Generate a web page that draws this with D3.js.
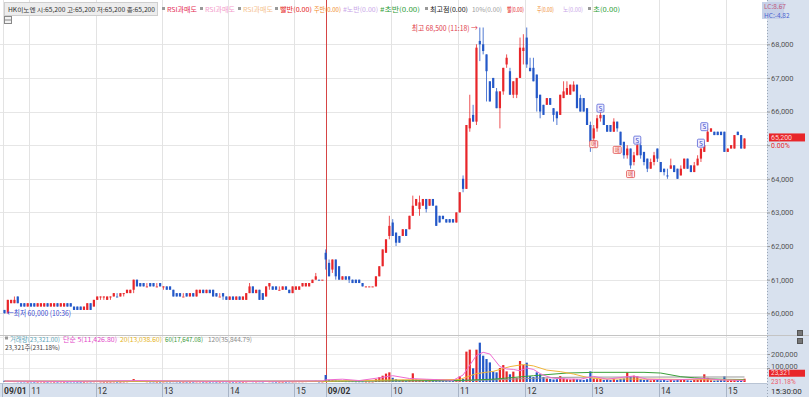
<!DOCTYPE html>
<html>
<head>
<meta charset="utf-8">
<script src="https://cdn.jsdelivr.net/npm/d3@7"></script>
<style>
body { margin: 0; background: #fff; }
svg { display: block; font-family: "Noto Sans CJK KR", "Noto Sans", sans-serif; }
</style>
</head>
<body>
<script>
// 3-minute candles, day 1 from 10:36, day 2 from 09:00
// [open, high, low, close]
const day1 = [
  [60100,60100,60000,60000],[60000,60400,60000,60400],[60300,60400,60300,60400],[60300,60500,60300,60400],
  [60500,60500,60300,60300],[60300,60300,60200,60200],[60300,60300,60200,60200],[60200,60300,60200,60300],
  [60300,60300,60200,60200],[60300,60300,60200,60200],[60200,60300,60200,60300],[60200,60300,60200,60300],
  [60200,60300,60200,60300],[60300,60300,60200,60200],[60200,60300,60200,60300],[60200,60300,60200,60300],
  [60300,60300,60200,60200],[60200,60300,60200,60300],[60200,60300,60200,60300],[60300,60300,60200,60200],
  [60300,60300,60200,60200],[60200,60200,60100,60100],[60200,60200,60100,60100],[60200,60200,60100,60100],
  [60100,60200,60100,60200],[60100,60300,60100,60300],[60300,60300,60100,60100],[60200,60400,60200,60400],
  [60400,60500,60400,60500],[60500,60500,60400,60500],[60500,60500,60400,60500],[60400,60500,60400,60500],
  [60500,60500,60400,60500],[60500,60600,60500,60600],[60500,60600,60500,60500],[60500,60600,60500,60600],
  [60600,60600,60500,60600],[60600,60700,60600,60700],[60600,60700,60600,60700],[60700,61000,60600,61000],
  [61000,61000,60800,60800],[60900,60900,60800,60800],[60900,60900,60800,60800],[60800,60900,60800,60800],
  [60900,60900,60800,60800],[60900,60900,60800,60800],[60800,60900,60800,60800],[60900,60900,60800,60800],
  [60800,60800,60700,60800],[60800,60800,60700,60700],[60800,60800,60700,60700],[60700,60700,60500,60500],
  [60600,60600,60500,60500],[60600,60600,60500,60500],[60500,60600,60500,60500],[60600,60600,60500,60500],
  [60500,60600,60500,60600],[60600,60600,60500,60500],[60500,60700,60500,60700],[60600,60700,60600,60700],
  [60700,60700,60600,60600],[60600,60700,60600,60700],[60700,60700,60600,60600],[60700,60700,60500,60500],
  [60600,60600,60500,60500],[60500,60600,60500,60500],[60600,60600,60400,60500],[60500,60500,60400,60400],
  [60400,60500,60400,60500],[60500,60500,60400,60400],[60400,60500,60400,60500],[60500,60500,60400,60400],
  [60400,60500,60400,60500],[60400,60600,60400,60600],[60600,60900,60600,60800],[60800,60800,60600,60600],
  [60600,60700,60600,60700],[60700,60700,60400,60400],[60600,60600,60400,60400],[60500,60800,60500,60800],
  [60800,60900,60700,60900],[60800,60800,60700,60700],[60800,60800,60700,60700],[60700,60800,60700,60700],
  [60700,60800,60700,60800],[60800,60800,60700,60700],[60700,60700,60600,60600],[60600,60800,60600,60800],
  [60700,60800,60700,60800],[60700,60800,60700,60800],[60800,60900,60800,60900],[60800,60900,60800,60900],
  [60800,60900,60800,60900],[60900,61000,60900,61000],[61000,61200,61000,61100],[61000,61000,61000,61000],
  [61000,61000,61000,61000]
];

const day2 = [
  [61800,61900,61300,61600],[61500,61600,61100,61100],[61300,61600,61200,61600],[61600,61600,61000,61100],
  [61400,61400,61000,61000],[61000,61100,61000,61100],[61100,61100,61000,61000],[61100,61100,60900,61000],
  [61000,61000,60900,60900],[61000,61000,60900,60900],[61000,61000,60900,60900],[60900,60900,60800,60800],
  [60800,60800,60800,60800],[60800,60800,60800,60800],[60800,60800,60800,60800],[60800,61100,60800,61100],
  [61100,61400,61100,61400],[61400,61900,61400,61900],[61800,62200,61800,62200],[62300,62900,62200,62600],
  [62700,62800,62300,62300],[62400,62400,62000,62100],[62300,62300,62100,62100],[62300,62500,62300,62500],
  [62500,62500,62300,62300],[62500,62900,62500,62900],[62900,63500,62900,63200],[63200,63400,63200,63400],
  [63100,63500,62900,63300],[63200,63400,63200,63400],[63400,63400,63000,63100],[63200,63400,63200,63400],
  [63400,63400,63200,63200],[63200,63200,62600,62600],[62900,62900,62700,62700],[62900,62900,62800,62800],
  [62800,62800,62700,62700],[62800,62800,62700,62700],[62800,62800,62700,62700],[62700,63000,62700,63000],
  [63000,63600,63000,63600],[64000,64100,63600,63700],[63700,65600,63700,65600],[65500,66500,65400,65800],
  [65900,66200,65700,65700],[65700,68000,65600,67900],[68100,68500,67500,68000],[68000,68500,67700,67800],
  [67700,67700,66300,67200],[66900,66900,66300,66300],[67000,67000,66700,66700],[66600,66700,66100,66100],
  [66100,66600,65500,66600],[66600,67300,66500,67300],[67400,67700,67300,67600],[67200,67300,66500,66500],
  [66500,66900,66400,66900],[66500,67000,66400,67000],[67000,68200,67000,67900],[67800,68300,67400,67900],
  [68200,68500,67300,67400],[67300,67600,67200,67200],[67300,67600,66900,66900],[67100,67100,66000,66400],
  [66500,66500,65800,66000],[66200,66200,65900,65900],[66200,66400,66200,66400],[66400,66400,66200,66200],
  [66100,66100,65700,65900],[66000,66000,65600,65800],[65900,66500,65900,66500],[66400,66900,66400,66600],
  [66500,66900,66500,66700],[66500,66800,66500,66800],[66600,66900,66600,66800],[66800,66800,66100,66100],
  [66400,66500,66000,66000],[66400,66400,66000,66000],[66100,66100,65600,65600],[65600,65700,64800,65100],
  [65200,65600,65100,65500],[65500,65900,65400,65800],[65800,66100,65700,65900],[65900,65900,65600,65600],
  [65600,65600,65400,65400],[65600,65600,65400,65400],[65400,65800,65400,65700],[65700,65700,65400,65500],
  [65400,65400,65000,65000],[65100,65100,64600,64700],[64700,65000,64600,64900],[64900,64900,64300,64400],
  [64500,64800,64400,64700],[64700,65100,64700,65000],[65000,65100,64600,64700],[64800,64800,64400,64500],
  [64600,64600,64200,64300],[64300,64600,64300,64500],[64500,64800,64400,64700],[64900,64900,64500,64600],
  [64500,64500,64200,64200],[64300,64300,64100,64200],[64100,64300,64000,64100],[64300,64600,64300,64400],
  [64400,64400,64200,64200],[64300,64300,64000,64000],[64100,64400,64100,64300],[64300,64600,64300,64600],
  [64600,64600,64300,64300],[64400,64400,64200,64200],[64200,64500,64200,64400],[64400,64700,64400,64600],
  [64600,64900,64500,64900],[64800,65100,64800,65000],[65100,65500,65100,65400],[65400,65500,65400,65500],
  [65400,65400,65300,65300],[65400,65400,65300,65300],[65400,65400,65300,65300],[65400,65400,64800,64800],
  [64800,64900,64800,64900],[64900,65000,64900,65000],[64900,65300,64900,65300],[65400,65400,65300,65300],
  [65300,65300,64900,64900],[64900,65200,64900,65200]
];

const vol1 = [
  9000,8000,6000,5000,4000,3000,3000,2000,3000,2000,
  2000,3000,2000,2000,3000,2000,2000,3000,2000,2000,
  3000,3000,2000,2000,2000,3000,3000,4000,5000,3000,
  2000,2000,2000,3000,2000,2000,3000,4000,6000,21000,
  7000,6000,6000,4000,3000,3000,2000,2000,3000,3000,
  3000,4000,3000,2000,2000,2000,2000,2000,3000,3000,
  2000,2000,2000,3000,2000,2000,3000,3000,2000,2000,
  2000,2000,2000,3000,5000,4000,3000,4000,3000,7000,
  4000,3000,2000,2000,2000,2000,3000,3000,4000,4000,
  4000,5000,6000,7000,8000,3000,3000
];

const vol2 = [
  50000,15000,12000,10000,8000,6000,5000,5000,5000,4000,
  4000,4000,3000,3000,3000,20000,35000,45000,60000,69000,
  30000,20000,12000,15000,10000,15000,62000,18000,15000,12000,
  14000,10000,12000,20000,10000,8000,9000,7000,8000,15000,
  40000,21000,217000,231000,98000,231000,281000,188000,164000,140000,
  74000,69000,100000,121000,76000,55000,74000,30000,150000,121000,
  138000,42000,36000,69000,55000,36000,25000,22000,18000,20000,
  42000,25000,20000,18000,22000,20000,18000,15000,20000,76000,
  25000,20000,22000,15000,18000,14000,20000,15000,22000,25000,
  69000,40000,45000,40000,20000,15000,18000,12000,14000,15000,
  12000,14000,10000,15000,12000,18000,14000,16000,12000,10000,
  14000,16000,20000,55000,30000,12000,10000,12000,14000,40000,
  12000,14000,18000,12000,10000,23321
];

// volume moving averages: [candle index, value]
const ma5 = [[0,6000],[20,4000],[40,10000],[60,5000],[80,5000],[96,8000],[97,15000],[102,20000],[107,10000],
  [113,30000],[117,45000],[122,25000],[127,20000],[135,12000],[138,50000],[140,120000],[142,190000],[144,212000],
  [146,200000],[147,170000],[149,110000],[151,93000],[153,90000],[155,80000],[157,100000],[159,90000],[161,60000],
  [163,40000],[165,27000],[169,22000],[173,20000],[177,40000],[181,20000],[187,38000],[189,42000],[193,20000],
  [201,15000],[210,25000],[215,15000],[222,11427]];
const ma20 = [[0,5000],[96,5000],[117,15000],[137,18000],[142,60000],[147,76000],[152,110000],[156,125000],
  [159,115000],[163,85000],[167,74000],[171,57000],[175,33000],[179,22000],[197,20000],[222,13039]];
const ma60 = [[0,4000],[96,5000],[117,9000],[137,11000],[147,20000],[159,45000],[169,64000],[177,69000],
  [192,69000],[197,64000],[203,38000],[207,30000],[212,22000],[217,19000],[222,17647]];
const ma120 = [[0,7000],[96,6000],[137,8000],[147,15000],[157,25000],[167,33000],[177,35000],[222,35845]];

const priceTicks = [60000, 61000, 62000, 63000, 64000, 65000, 66000, 67000, 68000];
const volTicks = [100000, 200000];
const timeLabels = ['09/01', '11', '12', '13', '14', '15', '09/02', '10', '11', '12', '13', '14', '15'];
const timeIdx = [0, 8, 28, 48, 68, 88, 97, 117, 137, 157, 177, 197, 217];

// signal markers: [candle index, price]
const sellSignals = [[179, 66100], [190, 65150], [209, 65060], [210, 65550]];
const buySignals = [[177, 65030], [184, 64860], [188, 64140]];

const candles = day1.concat(day2).map((d, i) => ({ i, o: d[0], h: d[1], l: d[2], c: d[3] }));
const volumes = vol1.concat(vol2);
candles.forEach((d, i) => {
  const prev = i > 0 ? candles[i - 1].c : d.o;
  d.up = d.c > d.o || (d.c === d.o && d.c >= prev);
  d.v = volumes[i];
});
const last = candles[candles.length - 1];

const RED = '#e8262a', BLUE = '#2458c8';
const W = 809, H = 397, plotR = 767;

const svg = d3.select('body').append('svg').attr('width', W).attr('height', H);

const x = d3.scaleLinear().domain([0, 97, 222]).range([4.5, 325.7, 744.5]);
const y = d3.scaleLinear().domain([60000, 68000]).range([313.3, 44.3]);
const yv = d3.scaleLinear().domain([0, 200000]).range([382, 354]);
const bw = 2.2;

// panels
svg.append('rect').attr('x', plotR).attr('y', 0).attr('width', W - plotR).attr('height', H).attr('fill', '#d8e1ee');
svg.append('rect').attr('x', 0).attr('y', 384).attr('width', plotR).attr('height', 13).attr('fill', '#d8e1ee');
svg.append('line').attr('x1', 0).attr('x2', plotR).attr('y1', 383.5).attr('y2', 383.5).attr('stroke', '#b9c4d4');

// grid
svg.append('g').selectAll('line').data(priceTicks).join('line')
  .attr('x1', 0).attr('x2', plotR).attr('y1', d => Math.round(y(d)) + 0.5).attr('y2', d => Math.round(y(d)) + 0.5)
  .attr('stroke', '#e6e6e6');
svg.append('g').selectAll('line').data(volTicks).join('line')
  .attr('x1', 0).attr('x2', plotR).attr('y1', d => Math.round(yv(d)) + 0.5).attr('y2', d => Math.round(yv(d)) + 0.5)
  .attr('stroke', '#ececec');
const gridX = timeIdx.map((k, n) => n === 6 ? x(k) : x(k) - 1.65);
svg.append('g').selectAll('line').data(gridX.filter((d, n) => n !== 6)).join('line')
  .attr('x1', d => Math.round(d) + 0.5).attr('x2', d => Math.round(d) + 0.5)
  .attr('y1', 0).attr('y2', 383).attr('stroke', '#e3e3e3');

// panel separator
svg.append('line').attr('x1', 0).attr('x2', W).attr('y1', 335.5).attr('y2', 335.5).attr('stroke', '#c4c4c4');
svg.append('line').attr('x1', 0).attr('x2', plotR).attr('y1', 337.5).attr('y2', 337.5).attr('stroke', '#ececec');

// day separator
svg.append('line').attr('x1', Math.round(x(97)) + 0.5).attr('x2', Math.round(x(97)) + 0.5)
  .attr('y1', 0).attr('y2', 383).attr('stroke', '#d64545');

// candles
const cg = svg.append('g');
cg.selectAll('line').data(candles).join('line')
  .attr('x1', d => x(d.i)).attr('x2', d => x(d.i))
  .attr('y1', d => y(d.h)).attr('y2', d => y(d.l))
  .attr('stroke', d => d.up ? RED : BLUE).attr('stroke-width', 0.8);
cg.selectAll('rect').data(candles).join('rect')
  .attr('x', d => x(d.i) - bw / 2).attr('width', bw)
  .attr('y', d => y(Math.max(d.o, d.c)))
  .attr('height', d => Math.max(1, Math.abs(y(d.o) - y(d.c))))
  .attr('fill', d => d.up ? RED : BLUE);

// volume bars
svg.append('g').selectAll('rect').data(candles).join('rect')
  .attr('x', d => x(d.i) - bw / 2).attr('width', bw)
  .attr('y', d => yv(d.v)).attr('height', d => Math.max(0.8, yv(0) - yv(d.v)))
  .attr('fill', d => d.up ? RED : BLUE);

// volume MAs
const vline = d3.line().x(d => x(d[0])).y(d => yv(d[1]));
[[ma120, '#9a9a9a'], [ma60, '#3aa03a'], [ma20, '#efb53a'], [ma5, '#ee6ad0']].forEach(([d, c]) => {
  svg.append('path').datum(d).attr('d', vline).attr('fill', 'none').attr('stroke', c).attr('stroke-width', 1);
});

// signal markers
const sig = svg.append('g').attr('font-size', 6.5).attr('text-anchor', 'middle');
sellSignals.forEach(([k, p]) => {
  sig.append('rect').attr('x', x(k) - 3.5).attr('y', y(p) - 4).attr('width', 7).attr('height', 8).attr('rx', 1)
    .attr('fill', '#eeeeff').attr('stroke', '#5562d6').attr('stroke-width', 0.8);
  sig.append('text').attr('x', x(k)).attr('y', y(p) + 2.5).attr('fill', '#3a48c8').text('S');
});
buySignals.forEach(([k, p]) => {
  sig.append('rect').attr('x', x(k) - 4).attr('y', y(p) - 3.5).attr('width', 8).attr('height', 7).attr('rx', 1)
    .attr('fill', '#fff0f0').attr('stroke', '#e04848').attr('stroke-width', 0.8);
  sig.append('text').attr('x', x(k)).attr('y', y(p) + 2.3).attr('font-size', 5.5).attr('fill', '#d83030').text('매');
});

// high / low annotations
const hi = candles.reduce((a, b) => b.h > a.h ? b : a);
const lo = candles.reduce((a, b) => b.l < a.l ? b : a);
svg.append('text').attr('x', x(hi.i) - 2).attr('y', y(hi.h) + 4).attr('text-anchor', 'end')
  .attr('font-size', 7.5).attr('fill', '#e03a48').attr('textLength', 66).attr('lengthAdjust', 'spacingAndGlyphs')
  .text('최고 68,500 (11:18) →');
svg.append('text').attr('x', x(lo.i) + 2.5).attr('y', y(lo.l) + 3).attr('font-size', 7.5).attr('fill', '#3a4ad0')
  .attr('textLength', 64).attr('lengthAdjust', 'spacingAndGlyphs')
  .text('←최저 60,000 (10:36)');

// right axes (labels hidden under the last-price tag are dropped, as in the original)
const ax = svg.append('g').attr('transform', `translate(${plotR},0)`)
  .call(d3.axisRight(y).tickValues(priceTicks).tickSize(3).tickPadding(1).tickFormat(d3.format(',')));
const axv = svg.append('g').attr('transform', `translate(${plotR},0)`)
  .call(d3.axisRight(yv).tickValues(volTicks).tickSize(3).tickPadding(1).tickFormat(d3.format(',')));
[ax, axv].forEach(a => {
  a.select('.domain').remove();
  a.selectAll('line').attr('stroke', '#999');
  a.selectAll('text').attr('font-size', 7.5).attr('fill', '#555').attr('font-family', 'Roboto, sans-serif');
});
ax.selectAll('.tick').filter(d => Math.abs(y(d) - y(last.c)) < 10).select('text').remove();
axv.selectAll('.tick text').attr('dy', d => d === 100000 ? '0' : '0.32em');
svg.append('line').attr('x1', plotR + 0.5).attr('x2', plotR + 0.5).attr('y1', 0).attr('y2', H)
  .attr('stroke', '#9aa6b6').attr('stroke-dasharray', '1,2');

// last price tag
svg.append('rect').attr('x', 769).attr('y', y(last.c) - 5).attr('width', 36).attr('height', 8).attr('fill', '#e8262a');
svg.append('text').attr('x', 771).attr('y', y(last.c) + 1.5).attr('font-size', 7).attr('fill', '#ffd6d6')
  .attr('font-family', 'Roboto, sans-serif').text(d3.format(',')(last.c));
svg.append('text').attr('x', 771).attr('y', y(last.c) + 10).attr('font-size', 7).attr('fill', '#e8262a')
  .attr('font-family', 'Roboto, sans-serif').text('0.00%');

svg.append('rect').attr('x', 769).attr('y', yv(last.v) - 9).attr('width', 36).attr('height', 7).attr('fill', '#e8262a');
svg.append('text').attr('x', 771).attr('y', yv(last.v) - 3.5).attr('font-size', 6.5).attr('fill', '#ffd6d6')
  .attr('font-family', 'Roboto, sans-serif').text(d3.format(',')(last.v));
svg.append('text').attr('x', 771).attr('y', yv(last.v) + 5).attr('font-size', 6.5).attr('fill', '#ee5a6a')
  .attr('font-family', 'Roboto, sans-serif').text('231.18%');

// small panel icons
[[797, 330], [797, 338]].forEach(([px, py]) => {
  svg.append('rect').attr('x', px + 0.5).attr('y', py + 0.5).attr('width', 5).attr('height', 5)
    .attr('fill', '#777').attr('stroke', '#555');
});
svg.append('rect').attr('x', 4.5).attr('y', 16.5).attr('width', 7).attr('height', 7).attr('fill', '#f2f2f2').attr('stroke', '#888');
svg.append('line').attr('x1', 5).attr('x2', 11).attr('y1', 20).attr('y2', 20).attr('stroke', '#888');

// LC / HC
svg.append('rect').attr('x', 762).attr('y', 2).attr('width', 22).attr('height', 17).attr('fill', '#c6d1e8');
svg.append('text').attr('x', 764).attr('y', 9).attr('font-size', 6.5).attr('fill', '#c0587a').text('LC:8.67');
svg.append('text').attr('x', 764).attr('y', 17.5).attr('font-size', 6.5).attr('fill', '#4a64d0').text('HC:-4.82');

// bottom time labels
const tb = svg.append('g').attr('font-size', 8.5).attr('fill', '#333');
timeLabels.forEach((t, n) => {
  const gx = n === 0 ? 2 : gridX[n];
  tb.append('line').attr('x1', Math.round(gx) + 0.5).attr('x2', Math.round(gx) + 0.5).attr('y1', 384).attr('y2', 397)
    .attr('stroke', '#a8b4c6');
  tb.append('text').attr('x', gx + 2).attr('y', 394).attr('font-weight', t.includes('/') ? 'bold' : 'normal')
    .attr('font-family', 'Roboto, sans-serif').text(t);
});
svg.append('text').attr('x', 771).attr('y', 394).attr('font-size', 8).attr('fill', '#333')
  .attr('font-family', 'Roboto, sans-serif').text('15:30:00');

// top legend
svg.append('rect').attr('x', 4.5).attr('y', 2.5).attr('width', 153).attr('height', 13).attr('fill', '#ededed').attr('stroke', '#cfcfcf');
const topLegend = [
  { t: 'HK이노엔 시:65,200 고:65,200 저:65,200 종:65,200', x: 8, w: 147, c: '#333', fs: 6 },
  { t: 'RSI과매도', x: 167, w: 30, c: '#e52d55', m: true },
  { t: 'RSI과매도', x: 205, w: 30, c: '#f39ccb', m: true },
  { t: 'RSI과매도', x: 243, w: 30, c: '#f5c28f', m: true },
  { t: '빨반(0.00)', x: 280, w: 32, c: '#e52222', m: true },
  { t: '주반(0.00)', x: 314, w: 27, c: '#f0892a' },
  { t: '#노반(0.00)', x: 343, w: 35, c: '#c9a6e8' },
  { t: '#초반(0.00)', x: 380, w: 40, c: '#2f9e3a' },
  { t: '최고점(0.00)', x: 430, w: 38, c: '#222', m: true },
  { t: '10%(0.00)', x: 472, w: 30, c: '#9a9a9a' },
  { t: '빨(0.00)', x: 507, w: 17, c: '#e52222' },
  { t: '주(0.00)', x: 537, w: 17, c: '#f0892a' },
  { t: '노(0.00)', x: 563, w: 20, c: '#c9a6e8' },
  { t: '초(0.00)', x: 593, w: 27, c: '#2f9e3a', m: true }
];
const volLegend = [
  { t: '거래량(23,321.00)', x: 10, w: 50, c: '#5aa5b8', m: true },
  { t: '단순 5(11,426.80)', x: 63, w: 54, c: '#e246c8' },
  { t: '20(13,038.60)', x: 120, w: 42, c: '#e6b422' },
  { t: '60(17,647.08)', x: 165, w: 38, c: '#3a9a3a' },
  { t: '120(35,844.79)', x: 208, w: 44, c: '#8a8a8a' }
];
function legend(items, by, fs) {
  items.forEach(d => {
    if (d.m) svg.append('rect').attr('x', d.x - 5).attr('y', by - 5).attr('width', 3).attr('height', 3).attr('fill', '#999');
    svg.append('text').attr('x', d.x).attr('y', by).attr('font-size', d.fs || fs).attr('fill', d.c)
      .attr('textLength', d.w).attr('lengthAdjust', 'spacingAndGlyphs').text(d.t);
  });
}
legend(topLegend, 12, 6.5);
legend(volLegend, 341.5, 6.5);
svg.append('text').attr('x', 5).attr('y', 350).attr('font-size', 6.5).attr('fill', '#444')
  .attr('textLength', 55).attr('lengthAdjust', 'spacingAndGlyphs').text('23,321주(231.18%)');
</script>
</body>
</html>
